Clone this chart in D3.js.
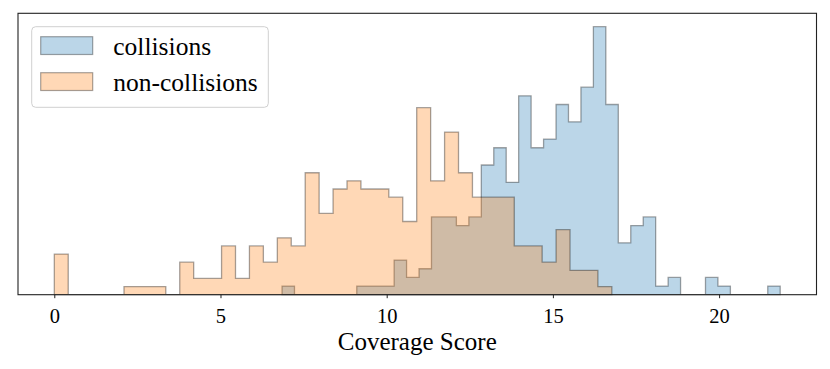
<!DOCTYPE html>
<html><head><meta charset="utf-8">
<script src="https://cdn.jsdelivr.net/npm/d3@7"></script>
<style>body{margin:0;background:#fff}svg{display:block}</style>
</head><body><svg id="c" width="830" height="369"></svg>
<script>
// ---- data ----
const seriesNames = ["collisions", "non-collisions"];
const collisionsRange = [6.851, 21.838];      // histogram range (40 bins)
const collisionsCounts = [1,0,0,0,0,0,1,1,1,4,2,3,9,9,8,9,15,17,13,23,17,18,22,20,24,31,22,6,8,9,1,2,0,0,2,1,0,0,0,1];
const nonCollisionsRange = [0, 16.773];        // histogram range (40 bins)
const nonCollisionsCounts = [5,0,0,0,0,1,1,1,0,4,2,2,6,2,6,4,7,6,15,10,13,14,13,13,12,9,23,14,20,15,12,12,12,6,6,4,8,3,3,1];
const xTicks = [0, 5, 10, 15, 20];
const xLabel = "Coverage Score";

// ---- layout ----
const W = 830, H = 369;
const plot = {left: 18, right: 816.5, top: 13.3, bottom: 294.7};
const svg = d3.select("#c");
const serif = "'Liberation Serif', 'Times New Roman', serif";

function makeBins(range, counts) {
  const n = counts.length, w = (range[1] - range[0]) / n;
  const total = d3.sum(counts);
  return counts.map((c, i) => ({x0: range[0] + i * w, x1: range[0] + (i + 1) * w, d: c / (total * w)}));
}
const series = [
  {name: seriesNames[0], bins: makeBins(collisionsRange, collisionsCounts), color: "rgb(31,119,180)"},
  {name: seriesNames[1], bins: makeBins(nonCollisionsRange, nonCollisionsCounts), color: "rgb(255,127,14)"}
];

const dataMin = Math.min(collisionsRange[0], nonCollisionsRange[0]);
const dataMax = Math.max(collisionsRange[1], nonCollisionsRange[1]);
const pad = (dataMax - dataMin) * 0.05;
const x = d3.scaleLinear().domain([dataMin - pad, dataMax + pad]).range([plot.left, plot.right]);
const maxD = d3.max(series, s => d3.max(s.bins, b => b.d));
const y = d3.scaleLinear().domain([0, maxD * 1.05]).range([plot.bottom, plot.top]);

// ---- histograms (stepfilled) ----
series.forEach(s => {
  const pts = [[s.bins[0].x0, 0]];
  s.bins.forEach(b => { pts.push([b.x0, b.d]); pts.push([b.x1, b.d]); });
  pts.push([s.bins[s.bins.length - 1].x1, 0]);
  const line = d3.line().x(p => x(p[0])).y(p => y(p[1]));
  svg.append("path")
    .attr("d", line(pts) + "Z")
    .attr("fill", s.color).attr("fill-opacity", 0.3)
    .attr("stroke", "#000").attr("stroke-opacity", 0.35)
    .attr("stroke-width", 1.3).attr("stroke-linejoin", "miter");
});

// ---- frame ----
svg.append("rect")
  .attr("x", plot.left).attr("y", plot.top)
  .attr("width", plot.right - plot.left).attr("height", plot.bottom - plot.top)
  .attr("fill", "none").attr("stroke", "#222").attr("stroke-width", 1.1);

// ---- x axis ----
const xAxis = d3.axisBottom(x).tickValues(xTicks).tickSize(3.5).tickPadding(4).tickFormat(d3.format("d"));
const gx = svg.append("g").attr("transform", `translate(0,${plot.bottom})`).call(xAxis);
gx.select(".domain").remove();
gx.selectAll(".tick line").attr("stroke", "#222").attr("stroke-width", 1);
gx.selectAll(".tick text")
  .attr("font-family", serif)
  .attr("font-size", 20.5).attr("fill", "#000").attr("dy", null).attr("y", 28.2);

svg.append("text")
  .attr("x", (plot.left + plot.right) / 2).attr("y", 350)
  .attr("text-anchor", "middle")
  .attr("font-family", serif)
  .attr("font-size", 25).attr("fill", "#000")
  .text(xLabel);

// ---- legend ----
const lg = svg.append("g");
lg.append("rect")
  .attr("x", 31.7).attr("y", 26.7).attr("width", 236.6).attr("height", 80.6)
  .attr("rx", 4).attr("fill", "#fff").attr("fill-opacity", 0.8)
  .attr("stroke", "#d0d0d0").attr("stroke-width", 1);
series.forEach((s, i) => {
  const yy = 36.7 + i * 36;
  lg.append("rect")
    .attr("x", 40.7).attr("y", yy).attr("width", 52).attr("height", 17.8)
    .attr("fill", s.color).attr("fill-opacity", 0.3)
    .attr("stroke", "#000").attr("stroke-opacity", 0.35).attr("stroke-width", 1.2);
  lg.append("text")
    .attr("x", 113.3).attr("y", yy + 18.5)
    .attr("font-family", serif)
    .attr("font-size", 25.5).attr("fill", "#000")
    .text(s.name);
});
</script>
</body></html>
